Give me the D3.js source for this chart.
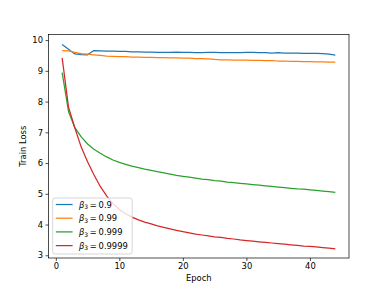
<!DOCTYPE html>
<html>
<head>
<meta charset="utf-8">
<script src="https://d3js.org/d3.v7.min.js"></script>
<style>
  body { margin: 0; background: #fff; }
  svg text { font-family: "DejaVu Sans", sans-serif; fill: #000; }
</style>
</head>
<body>
<svg width="388" height="291"></svg>
<script>
// chart values
var epochs = d3.range(1, 45);
var seriesNames = ["0.9", "0.99", "0.999", "0.9999"];
var colors = ["#1f77b4", "#ff7f0e", "#2ca02c", "#d62728"];
var xTicks = [0, 10, 20, 30, 40];
var yTicks = [3, 4, 5, 6, 7, 8, 9, 10];

var loss09 = [9.86, 9.70, 9.55, 9.53, 9.52, 9.66, 9.65, 9.64, 9.64, 9.63,
  9.63, 9.62, 9.62, 9.61, 9.61, 9.60, 9.60, 9.60, 9.61, 9.60,
  9.60, 9.59, 9.59, 9.60, 9.60, 9.59, 9.59, 9.59, 9.59, 9.60,
  9.60, 9.59, 9.59, 9.58, 9.59, 9.58, 9.58, 9.58, 9.57, 9.57,
  9.57, 9.56, 9.54, 9.51];
var loss099 = [9.66, 9.65, 9.60, 9.56, 9.54, 9.52, 9.50, 9.48, 9.47, 9.46,
  9.46, 9.45, 9.45, 9.44, 9.44, 9.43, 9.43, 9.42, 9.42, 9.41,
  9.41, 9.40, 9.40, 9.39, 9.37, 9.36, 9.36, 9.35, 9.35, 9.35,
  9.34, 9.34, 9.33, 9.33, 9.32, 9.32, 9.31, 9.31, 9.30, 9.30,
  9.29, 9.29, 9.28, 9.28];
var loss0999 = [8.94, 7.68, 7.15, 6.85, 6.62, 6.45, 6.32, 6.20, 6.10, 6.02,
  5.96, 5.90, 5.85, 5.80, 5.76, 5.72, 5.68, 5.64, 5.60, 5.57,
  5.54, 5.51, 5.48, 5.46, 5.43, 5.41, 5.38, 5.36, 5.34, 5.32,
  5.30, 5.28, 5.26, 5.24, 5.22, 5.20, 5.18, 5.16, 5.15, 5.13,
  5.11, 5.09, 5.07, 5.05];
var loss09999 = [9.42, 7.82, 7.14, 6.52, 6.04, 5.62, 5.24, 4.93, 4.68, 4.49,
  4.35, 4.24, 4.15, 4.08, 4.02, 3.96, 3.91, 3.86, 3.81, 3.77,
  3.73, 3.69, 3.66, 3.63, 3.60, 3.58, 3.55, 3.53, 3.50, 3.48,
  3.46, 3.44, 3.42, 3.40, 3.38, 3.36, 3.34, 3.32, 3.30, 3.29,
  3.27, 3.25, 3.23, 3.21];

var allSeries = [loss09, loss099, loss0999, loss09999];

var svg = d3.select("svg");
var plotL = 48.5, plotR = 349, plotT = 34.5, plotB = 258;

var x = d3.scaleLinear().domain([-1.15, 46.15]).range([plotL, plotR]);
var y = d3.scaleLinear().domain([2.912, 10.182]).range([plotB, plotT]);

var line = d3.line()
  .x(function(d, i) { return x(epochs[i]); })
  .y(function(d) { return y(d); });

// lines
allSeries.forEach(function(s, k) {
  svg.append("path")
    .datum(s)
    .attr("fill", "none")
    .attr("stroke", colors[k])
    .attr("stroke-width", 1.25)
    .attr("stroke-linejoin", "round")
    .attr("d", line);
});

// frame
svg.append("rect")
  .attr("x", plotL).attr("y", plotT)
  .attr("width", plotR - plotL).attr("height", plotB - plotT)
  .attr("fill", "none").attr("stroke", "#000").attr("stroke-width", 0.7);

// axes
var xAxis = svg.append("g")
  .attr("transform", "translate(0," + plotB + ")")
  .call(d3.axisBottom(x).tickValues(xTicks).tickSize(3).tickPadding(2.5));
var yAxis = svg.append("g")
  .attr("transform", "translate(" + plotL + ",0)")
  .call(d3.axisLeft(y).tickValues(yTicks).tickSize(3).tickPadding(2.5));
[xAxis, yAxis].forEach(function(a) {
  a.select(".domain").remove();
  a.selectAll("line").attr("stroke", "#000").attr("stroke-width", 0.7);
  a.selectAll("text").attr("font-size", "8.4px").attr("font-family", "DejaVu Sans");
});

svg.append("text")
  .attr("x", (plotL + plotR) / 2).attr("y", 281)
  .attr("text-anchor", "middle")
  .attr("font-size", "8.4px")
  .text("Epoch");

svg.append("text")
  .attr("transform", "translate(25.5," + (plotT + plotB) / 2 + ") rotate(-90)")
  .attr("text-anchor", "middle")
  .attr("font-size", "8.4px")
  .text("Train Loss");

// legend
var lg = svg.append("g");
lg.append("rect")
  .attr("x", 52.7).attr("y", 198)
  .attr("width", 79.5).attr("height", 56)
  .attr("rx", 2.5)
  .attr("fill", "#fff").attr("fill-opacity", 0.8)
  .attr("stroke", "#ccc").attr("stroke-width", 0.8);

seriesNames.forEach(function(n, k) {
  var yy = 204.5 + k * 13.7;
  lg.append("line")
    .attr("x1", 55.8).attr("x2", 72.6)
    .attr("y1", yy).attr("y2", yy)
    .attr("stroke", colors[k]).attr("stroke-width", 1.25);
  var t = lg.append("text")
    .attr("x", 79).attr("y", yy + 3)
    .attr("font-size", "8.4px");
  t.append("tspan").attr("font-style", "italic").text("\u03b2");
  t.append("tspan").attr("font-size", "6px").attr("dy", 1.8).text("3");
  t.append("tspan").attr("dy", -1.8).text("\u2009=\u20090" + n.slice(1));
});
</script>
</body>
</html>
